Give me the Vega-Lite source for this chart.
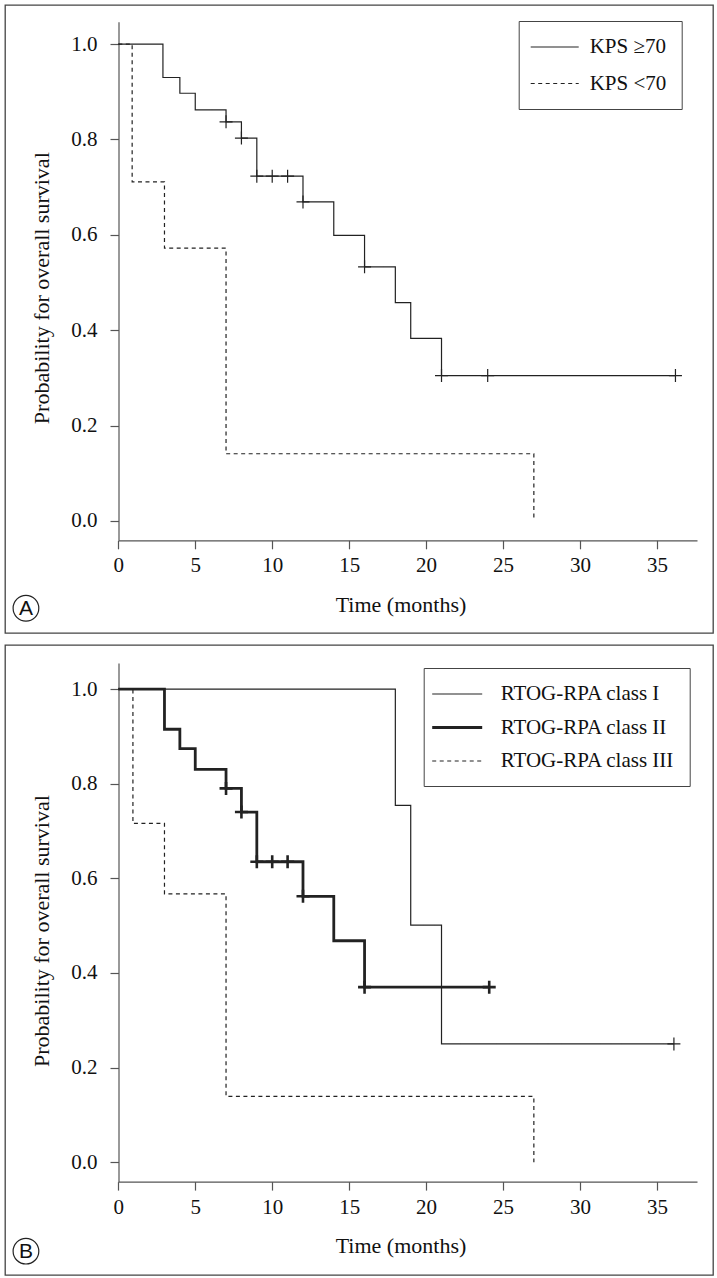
{
  "$schema": "https://vega.github.io/schema/vega-lite/v6.json",
  "padding": {"left": 4, "top": 4, "right": 5, "bottom": 5},
  "spacing": 10,
  "config": {
    "font": "Liberation Serif",
    "view": {"stroke": "#444", "strokeWidth": 1.3},
    "axis": {
      "domainColor": "#555", "tickColor": "#555", "labelColor": "#111", "titleColor": "#111",
      "labelFont": "Liberation Serif", "titleFont": "Liberation Serif",
      "labelFontSize": 21, "titleFontSize": 22, "titleFontWeight": "normal",
      "grid": false, "tickSize": 8.5, "domainWidth": 1.2, "tickWidth": 1.2
    },
    "axisX": {"labelPadding": 6},
    "axisY": {"labelPadding": 13},
    "legend": {"labelFont": "Liberation Serif", "labelColor": "#111", "strokeColor": "#444", "labelLimit": 400}
  },
  "datasets": {
    "kmA": [
      {"group": "KPS ≥70", "time": 0, "surv": 1},
      {"group": "KPS ≥70", "time": 2.9, "surv": 0.930},
      {"group": "KPS ≥70", "time": 4, "surv": 0.897},
      {"group": "KPS ≥70", "time": 5, "surv": 0.862},
      {"group": "KPS ≥70", "time": 7, "surv": 0.837},
      {"group": "KPS ≥70", "time": 8, "surv": 0.803},
      {"group": "KPS ≥70", "time": 9, "surv": 0.723},
      {"group": "KPS ≥70", "time": 12, "surv": 0.669},
      {"group": "KPS ≥70", "time": 14, "surv": 0.599},
      {"group": "KPS ≥70", "time": 16, "surv": 0.533},
      {"group": "KPS ≥70", "time": 18, "surv": 0.458},
      {"group": "KPS ≥70", "time": 19, "surv": 0.383},
      {"group": "KPS ≥70", "time": 21, "surv": 0.305},
      {"group": "KPS ≥70", "time": 36.2, "surv": 0.305},
      {"group": "KPS <70", "time": 0, "surv": 1},
      {"group": "KPS <70", "time": 0.9, "surv": 0.711},
      {"group": "KPS <70", "time": 3, "surv": 0.572},
      {"group": "KPS <70", "time": 7, "surv": 0.141},
      {"group": "KPS <70", "time": 27, "surv": 0}
    ],
    "censA": [
      {"group": "KPS ≥70", "time": 7, "surv": 0.837},
      {"group": "KPS ≥70", "time": 8, "surv": 0.803},
      {"group": "KPS ≥70", "time": 9, "surv": 0.723},
      {"group": "KPS ≥70", "time": 10, "surv": 0.723},
      {"group": "KPS ≥70", "time": 11, "surv": 0.723},
      {"group": "KPS ≥70", "time": 12, "surv": 0.669},
      {"group": "KPS ≥70", "time": 16, "surv": 0.533},
      {"group": "KPS ≥70", "time": 21, "surv": 0.305},
      {"group": "KPS ≥70", "time": 24, "surv": 0.305},
      {"group": "KPS ≥70", "time": 36.2, "surv": 0.305}
    ],
    "kmB": [
      {"group": "RTOG-RPA class I", "time": 0, "surv": 1},
      {"group": "RTOG-RPA class I", "time": 18, "surv": 0.754},
      {"group": "RTOG-RPA class I", "time": 19, "surv": 0.501},
      {"group": "RTOG-RPA class I", "time": 21, "surv": 0.25},
      {"group": "RTOG-RPA class I", "time": 36.1, "surv": 0.25},
      {"group": "RTOG-RPA class II", "time": 0, "surv": 1},
      {"group": "RTOG-RPA class II", "time": 3, "surv": 0.915},
      {"group": "RTOG-RPA class II", "time": 4, "surv": 0.874},
      {"group": "RTOG-RPA class II", "time": 5, "surv": 0.830},
      {"group": "RTOG-RPA class II", "time": 7, "surv": 0.790},
      {"group": "RTOG-RPA class II", "time": 8, "surv": 0.740},
      {"group": "RTOG-RPA class II", "time": 9, "surv": 0.635},
      {"group": "RTOG-RPA class II", "time": 12, "surv": 0.562},
      {"group": "RTOG-RPA class II", "time": 14, "surv": 0.468},
      {"group": "RTOG-RPA class II", "time": 16, "surv": 0.370},
      {"group": "RTOG-RPA class II", "time": 24.1, "surv": 0.370},
      {"group": "RTOG-RPA class III", "time": 0, "surv": 1},
      {"group": "RTOG-RPA class III", "time": 0.95, "surv": 0.716},
      {"group": "RTOG-RPA class III", "time": 3, "surv": 0.567},
      {"group": "RTOG-RPA class III", "time": 7, "surv": 0.139},
      {"group": "RTOG-RPA class III", "time": 27, "surv": 0}
    ],
    "censB": [
      {"group": "RTOG-RPA class I", "time": 36.1, "surv": 0.25},
      {"group": "RTOG-RPA class II", "time": 7, "surv": 0.790},
      {"group": "RTOG-RPA class II", "time": 8, "surv": 0.740},
      {"group": "RTOG-RPA class II", "time": 9, "surv": 0.635},
      {"group": "RTOG-RPA class II", "time": 10, "surv": 0.635},
      {"group": "RTOG-RPA class II", "time": 11, "surv": 0.635},
      {"group": "RTOG-RPA class II", "time": 12, "surv": 0.562},
      {"group": "RTOG-RPA class II", "time": 16, "surv": 0.370},
      {"group": "RTOG-RPA class II", "time": 24.1, "surv": 0.370}
    ]
  },
  "vconcat": [
    {
      "width": 708,
      "height": 628,
      "layer": [
        {
          "data": {"name": "kmA"},
          "mark": {"type": "line", "interpolate": "step-after", "color": "#222", "strokeWidth": 1.2},
          "encoding": {
            "x": {
              "field": "time", "type": "quantitative",
              "scale": {"domain": [0, 37.6], "range": [113.3, 692], "nice": false, "zero": false},
              "axis": {"values": [0, 5, 10, 15, 20, 25, 30, 35], "offset": -92.7, "title": "Time (months)", "titleX": 395.5, "titleY": 64, "titleBaseline": "middle", "labelFlush": false, "labelOverlap": false, "labelFont": "Liberation Serif", "titleFont": "Liberation Serif"}
            },
            "y": {
              "field": "surv", "type": "quantitative",
              "scale": {"domain": [-0.0405, 1.047], "range": [535.3, 16.7], "nice": false, "zero": false},
              "axis": {"values": [0, 0.2, 0.4, 0.6, 0.8, 1], "format": ".1f", "offset": -113.5, "title": "Probability for overall survival", "titleX": -77.5, "titleY": 282.7, "titleAlign": "center", "titleBaseline": "middle", "titleAngle": -90, "labelFlush": false, "labelOverlap": false, "labelFont": "Liberation Serif", "titleFont": "Liberation Serif"}
            },
            "strokeDash": {
              "field": "group", "type": "nominal",
              "scale": {"domain": ["KPS ≥70", "KPS <70"], "range": [[1, 0], [4, 3.5]]},
              "legend": {"orient": "none", "legendX": 513.7, "legendY": 16, "title": null, "padding": 15, "labelFont": "Liberation Serif", "labelFontSize": 21, "symbolType": "M-1.4,0H3.4", "symbolSize": 400, "symbolStrokeWidth": 1.2, "symbolStrokeColor": "#222", "labelOffset": 34, "rowPadding": 15.5}
            }
          }
        },
        {
          "data": {"name": "censA"},
          "mark": {"type": "point", "shape": "M-1,0H1M0,-1V1", "filled": false, "size": 169, "strokeWidth": 1.2, "color": "#222", "opacity": 1},
          "encoding": {
            "x": {"field": "time", "type": "quantitative"},
            "y": {"field": "surv", "type": "quantitative"}
          }
        },
        {
          "data": {"values": [{"label": "A"}]},
          "mark": {"type": "point", "shape": "circle", "size": 660, "filled": false, "stroke": "#222", "strokeWidth": 1.2, "opacity": 1},
          "encoding": {"x": {"datum": -6.0}, "y": {"datum": -0.183}}
        },
        {
          "data": {"values": [{"label": "A"}]},
          "mark": {"type": "text", "font": "Liberation Sans", "fontSize": 21, "color": "#111", "align": "center", "baseline": "middle", "dy": 1},
          "encoding": {"x": {"datum": -6.0}, "y": {"datum": -0.183}, "text": {"field": "label"}}
        }
      ]
    },
    {
      "width": 708,
      "height": 630,
      "layer": [
        {
          "data": {"name": "kmB"},
          "mark": {"type": "line", "interpolate": "step-after", "color": "#222"},
          "encoding": {
            "x": {
              "field": "time", "type": "quantitative",
              "scale": {"domain": [0, 37.6], "range": [113.3, 692], "nice": false, "zero": false},
              "axis": {"values": [0, 5, 10, 15, 20, 25, 30, 35], "offset": -93.4, "title": "Time (months)", "titleX": 395.5, "titleY": 64, "titleBaseline": "middle", "labelFlush": false, "labelOverlap": false, "labelFont": "Liberation Serif", "titleFont": "Liberation Serif"}
            },
            "y": {
              "field": "surv", "type": "quantitative",
              "scale": {"domain": [-0.041, 1.055], "range": [536.6, 18], "nice": false, "zero": false},
              "axis": {"values": [0, 0.2, 0.4, 0.6, 0.8, 1], "format": ".1f", "offset": -113.5, "title": "Probability for overall survival", "titleX": -77.5, "titleY": 285.6, "titleAlign": "center", "titleBaseline": "middle", "titleAngle": -90, "labelFlush": false, "labelOverlap": false, "labelFont": "Liberation Serif", "titleFont": "Liberation Serif"}
            },
            "strokeDash": {
              "field": "group", "type": "nominal",
              "scale": {"domain": ["RTOG-RPA class I", "RTOG-RPA class II", "RTOG-RPA class III"], "range": [[1, 0], [1, 0], [4, 3.5]]},
              "legend": {"orient": "none", "legendX": 418.7, "legendY": 23, "title": null, "padding": 15, "labelFont": "Liberation Serif", "labelFontSize": 21, "symbolType": "M-1.8,0H3.2", "symbolSize": 400, "symbolStrokeColor": "#222", "labelOffset": 39, "rowPadding": 12}
            },
            "strokeWidth": {
              "field": "group", "type": "nominal",
              "scale": {"type": "ordinal", "domain": ["RTOG-RPA class I", "RTOG-RPA class II", "RTOG-RPA class III"], "range": [1.2, 2.8, 1.2]},
              "legend": {"orient": "none", "legendX": 418.7, "legendY": 23, "title": null, "padding": 15, "labelFont": "Liberation Serif", "labelFontSize": 21, "symbolType": "M-1.8,0H3.2", "symbolSize": 400, "symbolStrokeColor": "#222", "labelOffset": 39, "rowPadding": 12}
            }
          }
        },
        {
          "data": {"name": "censB"},
          "transform": [{"filter": "datum.group === 'RTOG-RPA class II'"}],
          "mark": {"type": "point", "shape": "M-1,0H1M0,-1V1", "filled": false, "size": 169, "strokeWidth": 2.6, "color": "#222", "opacity": 1},
          "encoding": {
            "x": {"field": "time", "type": "quantitative"},
            "y": {"field": "surv", "type": "quantitative"}
          }
        },
        {
          "data": {"name": "censB"},
          "transform": [{"filter": "datum.group === 'RTOG-RPA class I'"}],
          "mark": {"type": "point", "shape": "M-1,0H1M0,-1V1", "filled": false, "size": 169, "strokeWidth": 1.2, "color": "#222", "opacity": 1},
          "encoding": {
            "x": {"field": "time", "type": "quantitative"},
            "y": {"field": "surv", "type": "quantitative"}
          }
        },
        {
          "data": {"values": [{"label": "B"}]},
          "mark": {"type": "point", "shape": "circle", "size": 660, "filled": false, "stroke": "#222", "strokeWidth": 1.2, "opacity": 1},
          "encoding": {"x": {"datum": -6.0}, "y": {"datum": -0.188}}
        },
        {
          "data": {"values": [{"label": "B"}]},
          "mark": {"type": "text", "font": "Liberation Sans", "fontSize": 21, "color": "#111", "align": "center", "baseline": "middle", "dy": 1},
          "encoding": {"x": {"datum": -6.0}, "y": {"datum": -0.188}, "text": {"field": "label"}}
        }
      ]
    }
  ],
  "resolve": {"scale": {"x": "independent", "y": "independent", "strokeDash": "independent", "strokeWidth": "independent"}}
}
